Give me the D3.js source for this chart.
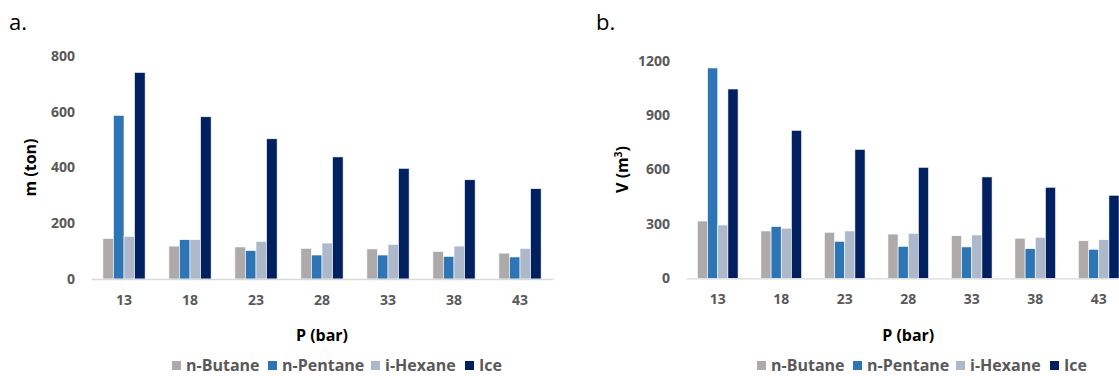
<!DOCTYPE html>
<html>
<head>
<meta charset="utf-8">
<script src="https://cdn.jsdelivr.net/npm/d3@7"></script>
<style>
  html, body { margin: 0; padding: 0; background: #fff; }
  svg { display: block; }
  text { font-family: "Open Sans", "Liberation Sans", sans-serif; }
</style>
</head>
<body>
<svg id="chart" width="1119" height="376"></svg>
<script>
// ---- data ----
const categories = ["13", "18", "23", "28", "33", "38", "43"];
const seriesNames = ["n-Butane", "n-Pentane", "i-Hexane", "Ice"];
const seriesColors = ["#AEAAAA", "#2E75B6", "#ADB9CA", "#002060"];

// panel a: mass (ton)
const massButane  = [145, 118, 115, 110, 108, 99, 93];
const massPentane = [587, 141, 102, 86, 86, 81, 79];
const massHexane  = [153, 141, 135, 129, 124, 118, 110];
const massIce     = [741, 582, 503, 438, 397, 356, 324];
const massTicks   = [0, 200, 400, 600, 800];

// panel b: volume (m3)
const volButane  = [316, 261, 254, 244, 235, 221, 207];
const volPentane = [1160, 285, 204, 176, 173, 163, 160];
const volHexane  = [294, 276, 261, 248, 239, 226, 213];
const volIce     = [1044, 816, 711, 612, 559, 502, 458];
const volTicks   = [0, 300, 600, 900, 1200];

const svg = d3.select("#chart");

function panel(cfg) {
  const g = svg.append("g");
  const x0 = d3.scaleBand().domain(categories)
    .range([cfg.x0, cfg.x1]).paddingInner(0.36).paddingOuter(0.18);
  const x1 = d3.scaleBand().domain(seriesNames).range([0, x0.bandwidth()]);
  const y = d3.scaleLinear().domain([0, cfg.ymax]).range([cfg.yb, cfg.yt]);

  // bars
  cfg.series.forEach((vals, si) => {
    g.append("g").selectAll("rect").data(vals).join("rect")
      .attr("x", (d, i) => x0(categories[i]) + x1(seriesNames[si]))
      .attr("y", d => y(d))
      .attr("width", x1.bandwidth())
      .attr("height", d => y(0) - y(d))
      .attr("fill", seriesColors[si])
      .attr("stroke", "#ffffff")
      .attr("stroke-width", 0.6);
  });

  // x axis baseline + labels
  const xAxis = d3.axisBottom(x0).tickSize(0).tickPadding(16);
  const xa = g.append("g").attr("transform", `translate(0,${y(0)})`).call(xAxis);
  xa.select(".domain").attr("stroke", "#D9D9D9").attr("stroke-width", 1.3);
  xa.selectAll("text").attr("fill", "#595959").attr("font-size", 14)
    .attr("font-weight", "bold");

  // y axis labels (no line)
  const yAxis = d3.axisLeft(y).tickValues(cfg.ticks).tickFormat(d3.format("d"))
    .tickSize(0).tickPadding(16);
  const ya = g.append("g").attr("transform", `translate(${cfg.x0},0)`).call(yAxis);
  ya.select(".domain").remove();
  ya.selectAll("text").attr("fill", "#595959").attr("font-size", 14)
    .attr("font-weight", "bold");

  // axis titles
  g.append("text").attr("x", (cfg.x0 + cfg.x1) / 2).attr("y", 341)
    .attr("text-anchor", "middle").attr("font-size", 16).attr("font-weight", "bold")
    .attr("fill", "#000").text("P (bar)");
  const yt = g.append("text")
    .attr("transform", `translate(${cfg.ytX},${(cfg.yb + cfg.yt) / 2}) rotate(-90)`)
    .attr("text-anchor", "middle").attr("font-size", 16).attr("font-weight", "bold")
    .attr("fill", "#000");
  if (cfg.super) {
    yt.append("tspan").text(cfg.ytitle);
    yt.append("tspan").attr("dy", -6).attr("font-size", 10).text(cfg.super);
    yt.append("tspan").attr("dy", 6).text(")");
  } else {
    yt.text(cfg.ytitle);
  }

  // panel letter
  g.append("text").attr("x", cfg.letterX).attr("y", 30)
    .attr("font-family", "Liberation Sans, Arial, sans-serif")
    .attr("font-size", 22).attr("fill", "#000").text(cfg.letter);

  // legend
  const lg = g.append("g").attr("transform", `translate(${cfg.legendX},0)`);
  const offs = [0, 96, 199, 293];
  seriesNames.forEach((s, i) => {
    lg.append("rect").attr("x", offs[i]).attr("y", 361).attr("width", 9).attr("height", 9)
      .attr("fill", seriesColors[i]);
    lg.append("text").attr("x", offs[i] + 14).attr("y", 371)
      .attr("font-size", 16).attr("font-weight", "bold").attr("fill", "#595959").text(s);
  });
}

panel({
  x0: 91, x1: 553, yb: 279, yt: 56, ymax: 800, ticks: massTicks,
  series: [massButane, massPentane, massHexane, massIce],
  ytitle: "m (ton)", ytX: 36, letter: "a.", letterX: 9, legendX: 172
});
panel({
  x0: 686, x1: 1130.5, yb: 278.3, yt: 60.7, ymax: 1200, ticks: volTicks,
  series: [volButane, volPentane, volHexane, volIce],
  ytitle: "V (m", super: "3", ytX: 628, letter: "b.", letterX: 596, legendX: 757
});
</script>
</body>
</html>
